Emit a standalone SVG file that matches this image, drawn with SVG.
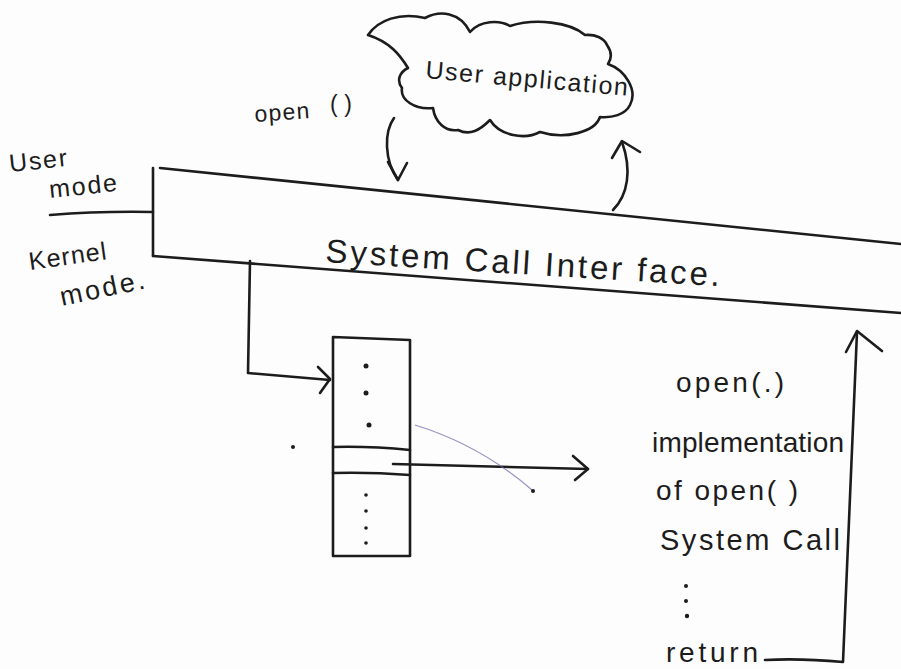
<svg xmlns="http://www.w3.org/2000/svg" width="901" height="669" viewBox="0 0 901 669">
<style>
.ln{fill:none;stroke:#1c1c1c;stroke-width:2.6;stroke-linecap:round;stroke-linejoin:round}
.tx{font-family:"Liberation Sans",Arial,sans-serif;fill:#1c1c1c}
.dot{fill:#1c1c1c}
</style>
<rect width="901" height="669" fill="#fdfdfd"/>
<g id="mode-labels">
<text class="tx" x="10" y="172" font-size="25" textLength="58" transform="rotate(-6 10 172)">User</text>
<text class="tx" x="50" y="198" font-size="25" textLength="68" transform="rotate(-6 50 198)">mode</text>
<text class="tx" x="30" y="270" font-size="25" textLength="78" transform="rotate(-8 30 270)">Kernel</text>
<text class="tx" x="62" y="306" font-size="27" textLength="86" transform="rotate(-12 62 306)">mode.</text>
<path class="ln" d="M50,215 Q100,211 153,212"/>
</g>
<g id="interface">
<path class="ln" d="M153,168 L153,256"/>
<path class="ln" d="M160,168 L901,244"/>
<path class="ln" d="M153,256 L901,313"/>
<text class="tx" x="325" y="262" font-size="33" textLength="395" transform="rotate(3.5 325 262)">System  Call  Inter face.</text>
</g>
<g id="user-application">
<path class="ln" d="M368,35 C378,20 400,12 425,18 C440,10 460,12 470,32 C480,20 500,20 510,26 C535,18 570,22 585,35 C595,34 604,38 607,45 C612,52 612,58 608,64 C625,70 638,90 630,105 C625,115 612,118 600,117 C595,132 565,140 540,132 C525,140 500,136 490,120 C480,130 470,136 458,130 C445,132 435,122 433,108 C415,110 400,100 402,88 C396,80 400,72 408,68 C400,55 390,42 368,35 Z"/>
<text class="tx" x="425" y="78" font-size="25" textLength="203" transform="rotate(5 425 78)">User application</text>
</g>
<g id="open-call-label">
<text class="tx" x="255" y="122" font-size="23" textLength="55" transform="rotate(-4 255 122)">open</text>
<text class="tx" x="330" y="112" font-size="23" textLength="22">()</text>
</g>
<g id="table">
<path class="ln" d="M333,337 L333,556 L410,556 L410,340 Q380,339 333,337 Z"/>
<path class="ln" d="M333,447 Q370,446 410,450"/>
<path class="ln" d="M333,473 Q370,472 410,475"/>
<circle class="dot" cx="366" cy="366" r="2.5"/>
<circle class="dot" cx="366" cy="393" r="2.5"/>
<circle class="dot" cx="369" cy="425" r="2.5"/>
<circle class="dot" cx="366" cy="495" r="1.8"/>
<circle class="dot" cx="366" cy="511" r="1.8"/>
<circle class="dot" cx="366" cy="528" r="1.8"/>
<circle class="dot" cx="366" cy="543" r="1.8"/>
</g>
<g id="implementation">
<text class="tx" x="676" y="392" font-size="28" textLength="108">open(.)</text>
<text class="tx" x="652" y="452" font-size="28" textLength="192">implementation</text>
<text class="tx" x="656" y="500" font-size="28" textLength="142">of open( )</text>
<text class="tx" x="660" y="550" font-size="29" textLength="180">System Call</text>
<circle class="dot" cx="686" cy="586" r="2"/>
<circle class="dot" cx="686" cy="601" r="2"/>
<circle class="dot" cx="687" cy="616" r="2.2"/>
<text class="tx" x="666" y="662" font-size="28" textLength="92">return</text>
</g>
<g id="connectors">
<path class="ln" d="M394,118 C384,132 384,160 398,180"/>
<path class="ln" d="M388,162 L398,180 L407,163"/>
<path class="ln" d="M613,210 C628,195 632,170 622,142"/>
<path class="ln" d="M612,158 L622,141 L640,152"/>
<path class="ln" d="M250,261 L248,373 L330,380"/>
<path class="ln" d="M318,367 L330,379 L320,393"/>
<path class="ln" d="M393,464 L588,469"/>
<path class="ln" d="M573,456 L588,469 L575,480"/>
<path class="ln" d="M765,660 Q800,658 843,662 L857,332"/>
<path class="ln" d="M846,352 L857,331 L882,351"/>
</g>
<g id="stray-marks">
<path d="M415,425 Q480,445 532,490" fill="none" stroke="#6b68a8" stroke-width="1.3" opacity="0.7"/>
<circle class="dot" cx="533" cy="491" r="2"/>
<circle class="dot" cx="293" cy="447" r="2"/>
</g>
</svg>
